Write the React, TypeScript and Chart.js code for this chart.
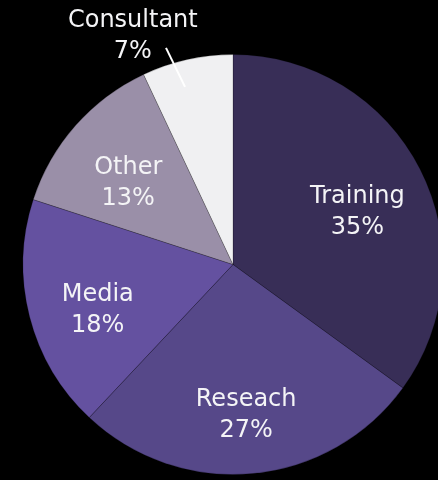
import React, { useEffect, useRef } from "react";
import { Chart, registerables } from "chart.js";

Chart.register(...registerables);

const categories = ["Training", "Reseach", "Media", "Other", "Consultant"];
const values = [35, 27, 18, 13, 7];
const percentLabels = ["35%", "27%", "18%", "13%", "7%"];
const colors = ["#382e57", "#564889", "#6451a0", "#9a8fa8", "#f0f0f2"];

const FONT = '24px "DejaVu Sans", sans-serif';

const labelPlugin = {
  id: "sliceLabels",
  afterDatasetsDraw(chart: any) {
    const ctx = chart.ctx;
    const meta = chart.getDatasetMeta(0);
    ctx.save();
    ctx.fillStyle = "#f4f4f6";
    ctx.font = FONT;
    ctx.textAlign = "center";
    ctx.textBaseline = "middle";
    const lineGap = 31;
    meta.data.forEach((arc: any, i: number) => {
      const { x, y, startAngle, endAngle, outerRadius } = arc.getProps(
        ["x", "y", "startAngle", "endAngle", "outerRadius"],
        true
      );
      const mid = (startAngle + endAngle) / 2;
      if (i === categories.length - 1) {
        const a1 = mid - 0.044;
        const a2 = mid - 0.08;
        const sx = x + Math.cos(a1) * outerRadius * 0.876;
        const sy = y + Math.sin(a1) * outerRadius * 0.876;
        const ex = x + Math.cos(a2) * outerRadius * 1.08;
        const ey = y + Math.sin(a2) * outerRadius * 1.08;
        ctx.strokeStyle = "#ffffff";
        ctx.lineWidth = 2;
        ctx.beginPath();
        ctx.moveTo(sx, sy);
        ctx.lineTo(ex, ey);
        ctx.stroke();
        const a3 = mid - 0.194;
        const lx = x + Math.cos(a3) * outerRadius * 1.186;
        const ly = y + Math.sin(a3) * outerRadius * 1.186;
        ctx.fillText(categories[i], lx, ly - lineGap / 2);
        ctx.fillText(percentLabels[i], lx, ly + lineGap / 2);
      } else {
        const r = outerRadius * 0.665;
        const lx = x + Math.cos(mid) * r;
        const ly = y + Math.sin(mid) * r;
        ctx.fillText(categories[i], lx, ly - 4);
        ctx.fillText(percentLabels[i], lx, ly - 4 + lineGap);
      }
    });
    ctx.restore();
  },
};

export default function App() {
  const ref = useRef<HTMLCanvasElement | null>(null);
  useEffect(() => {
    document.body.style.margin = "0";
    document.body.style.background = "#000";
    const chart = new Chart(ref.current as HTMLCanvasElement, {
      type: "pie",
      data: {
        labels: categories,
        datasets: [
          {
            data: values,
            backgroundColor: colors,
            borderColor: "rgba(0,0,0,0.2)",
            borderWidth: 1,
            hoverOffset: 0,
          },
        ],
      },
      options: {
        responsive: false,
        animation: false,
        radius: 210,
        layout: { padding: { top: 49, bottom: 0, left: 0, right: 0 } },
        plugins: {
          legend: { display: false },
          tooltip: { enabled: false },
        },
        events: [],
      } as any,
      plugins: [labelPlugin],
    });
    return () => chart.destroy();
  }, []);
  return (
    <div
      style={{
        position: "fixed",
        left: 0,
        top: 0,
        width: 438,
        height: 480,
        overflow: "hidden",
        background: "#000",
      }}
    >
      <canvas ref={ref} width={466} height={480} style={{ display: "block" }} />
    </div>
  );
}
